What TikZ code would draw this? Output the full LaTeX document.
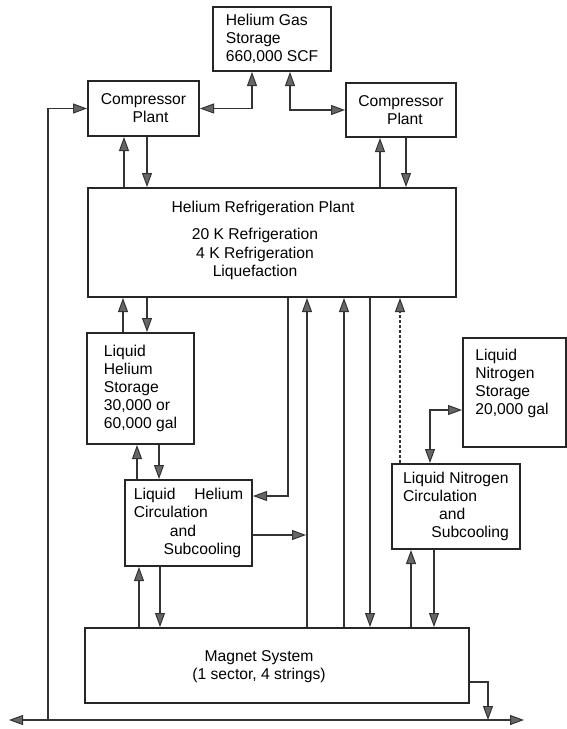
\documentclass[tikz,border=0pt]{standalone}
\usepackage{fontspec}
\setmainfont{Liberation Sans}
\usetikzlibrary{arrows.meta}

\tikzset{
    fleche/.tip={Triangle[length=8.4pt,width=6pt,fill=black!60,line width=0.6pt]},
    box/.style={draw=black!85, line width=1.2pt, inner sep=0pt, align=left},
    txt/.style={inner sep=0pt},
    arr/.style={draw=black!80, line width=0.8pt, -fleche},
    dbl/.style={arr, fleche-fleche},
}

\begin{document}
\begin{tikzpicture}[x=0.6pt, y=-0.6pt, font=\fontsize{9.4}{10.9}\selectfont]
    \useasboundingbox (0,0) rectangle (567,729);

    % Stockage d'hélium gazeux et compresseurs
    \node[box, minimum width=70.8pt, minimum height=38.4pt] (gas) at (272,39) {Helium Gas\\Storage\\660,000 SCF};
    \node[box, align=center, minimum width=66.6pt, minimum height=33pt] (compL) at (143.5,108.5) {Compressor\\\hspace*{0.9em}Plant};
    \node[box, align=center, minimum width=66pt, minimum height=32.4pt] (compR) at (401,110) {Compressor\\\hspace*{0.5em}Plant};

    % Usine de réfrigération
    \node[box, minimum width=220.8pt, minimum height=65.4pt] (refrig) at (272,242.5) {};
    \node[txt] (refrigtitre) at (263,208) {Helium Refrigeration Plant};
    \node[txt, align=center] (refrigliste) at (255,254) {20 K Refrigeration\\4 K Refrigeration\\Liquefaction};

    % Hélium liquide
    \node[box, minimum width=64.2pt, minimum height=66.6pt] (lhe) at (140.5,388.5) {Liquid\\Helium\\Storage\\30,000 or\\60,000 gal};
    \node[box, minimum width=76.2pt, minimum height=51.6pt] (lhecirc) at (188.5,523) {Liquid\hspace{1.2em}Helium\\Circulation\\\hspace*{2.3em}and\\\hspace*{1.9em}Subcooling};

    % Azote liquide
    \node[box, minimum width=61.8pt, minimum height=65.4pt] (ln2) at (514.5,392.5) {};
    \node[txt, anchor=west, align=left] (ln2txt) at (475,383.5) {Liquid\\Nitrogen\\Storage\\20,000 gal};
    \node[box, minimum width=76.8pt, minimum height=51pt] (ln2circ) at (456,506.5) {Liquid Nitrogen\\Circulation\\\hspace*{2.3em}and\\\hspace*{1.8em}Subcooling};

    % Aimants
    \node[box, minimum width=230.4pt, minimum height=45pt] (magnet) at (277,665.5) {};
    \node[txt, align=center] (magnettxt) at (259,667) {Magnet System\\(1 sector, 4 strings)};

    % Ligne de retour
    \coordinate (retG) at (9,720);
    \coordinate (retD) at (524,720);
    \draw[dbl] (retG) -- (retD);
    \draw[arr] (48,0 |- retG) |- (compL);
    \draw[arr] (magnet.east |- 0,682) -| (488,0 |- retD);

    % Liaisons gaz
    \draw[dbl] (252,0 |- gas.south) |- (compL);
    \draw[dbl] (290,0 |- gas.south) |- (compR);

    % Compresseurs et réfrigération
    \draw[arr] (124,0 |- refrig.north) -- (124,0 |- compL.south);
    \draw[arr] (147,0 |- compL.south) -- (147,0 |- refrig.north);
    \draw[arr] (380,0 |- refrig.north) -- (380,0 |- compR.south);
    \draw[arr] (406,0 |- compR.south) -- (406,0 |- refrig.north);

    % Réfrigération, stockage, circulation, aimants
    \draw[arr] (123,0 |- lhe.north) -- (123,0 |- refrig.south);
    \draw[arr] (147,0 |- refrig.south) -- (147,0 |- lhe.north);
    \draw[arr] (137,0 |- lhecirc.north) -- (137,0 |- lhe.south);
    \draw[arr] (159,0 |- lhe.south) -- (159,0 |- lhecirc.north);
    \draw[arr] (139,0 |- magnet.north) -- (139,0 |- lhecirc.south);
    \draw[arr] (160,0 |- lhecirc.south) -- (160,0 |- magnet.north);

    % Conduites verticales
    \draw[arr] (288,0 |- refrig.south) |- (lhecirc.east |- 0,496);
    \draw[arr] (lhecirc.east |- 0,535) -- (306,535);
    \draw[arr] (307,0 |- magnet.north) -- (307,0 |- refrig.south);
    \draw[arr] (344,0 |- magnet.north) -- (344,0 |- refrig.south);
    \draw[arr] (370,0 |- refrig.south) -- (370,0 |- magnet.north);
    \draw[arr, dash pattern=on 1.8pt off 1.2pt] (400,0 |- ln2circ.north) -- (400,0 |- refrig.south);

    % Azote
    \draw[dbl] (430,0 |- ln2circ.north) |- (ln2.west |- 0,410);
    \draw[arr] (411,0 |- magnet.north) -- (411,0 |- ln2circ.south);
    \draw[arr] (434,0 |- ln2circ.south) -- (434,0 |- magnet.north);
\end{tikzpicture}
\end{document}
